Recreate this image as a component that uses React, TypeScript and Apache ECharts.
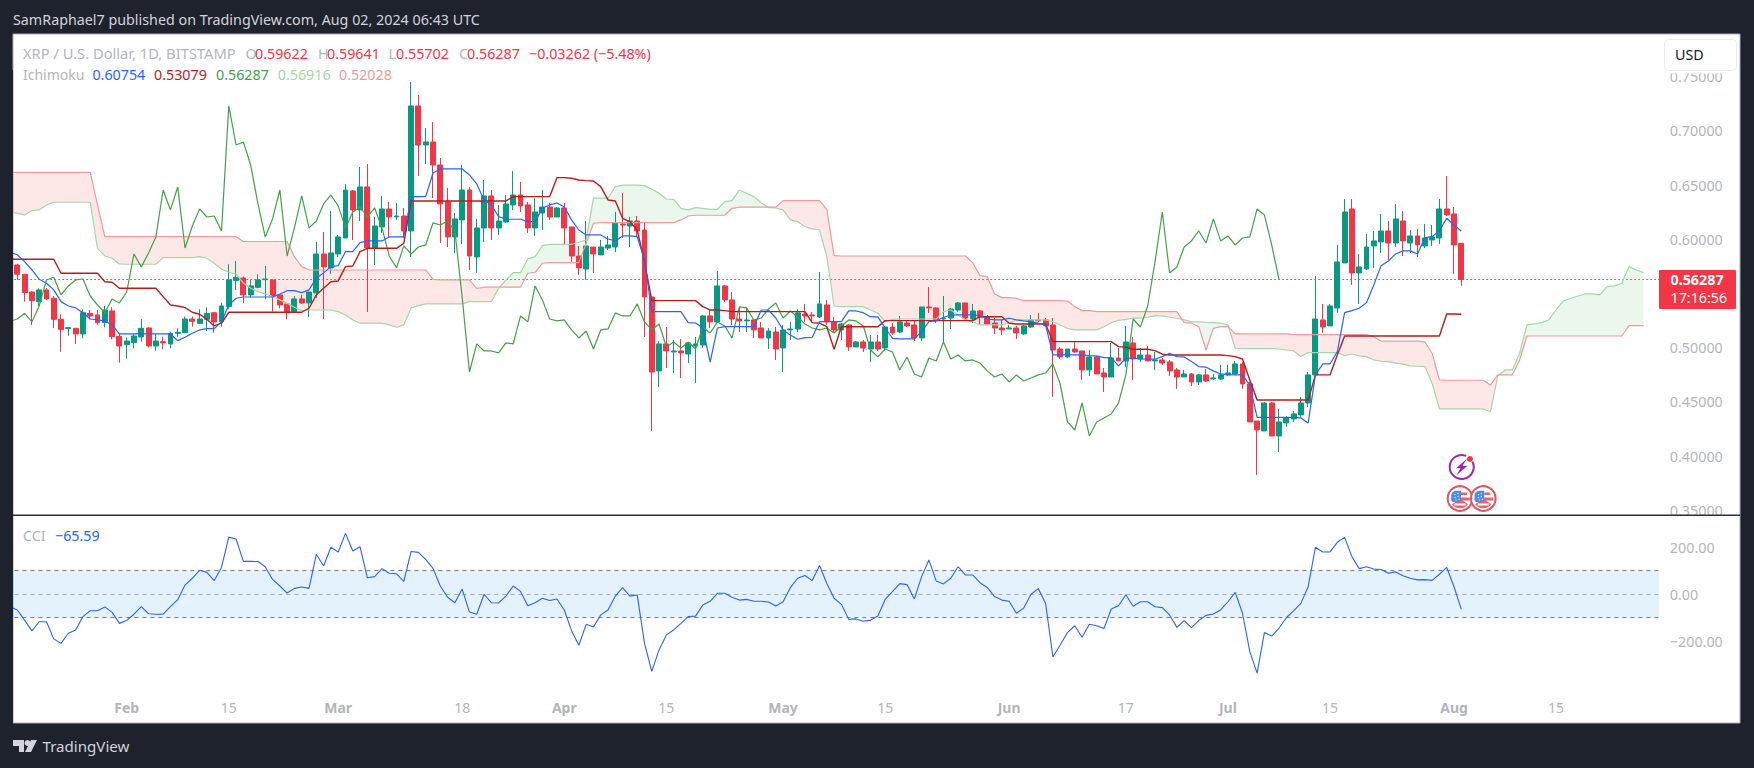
import React, { useEffect, useRef } from "react";
import * as echarts from "echarts";

const FONT = '"Noto Sans", sans-serif';
const CATEGORY_COUNT = 227;
const LAST_PRICE = 0.56287;
const tickIndex = [16, 30, 45, 62, 76, 90, 106, 120, 137, 153, 167, 181, 198, 212];
const tickLabels = ["Feb", "15", "Mar", "18", "Apr", "15", "May", "15", "Jun", "17", "Jul", "15", "Aug", "15"];
const boldTicks = ["Feb", "Mar", "Apr", "May", "Jun", "Jul", "Aug"];

const opens = [
  .5762,.5677,.5513,.5424,.5532,.5455,.5261,.5175,.5178,.5126,
  .5316,.5301,.5230,.5338,.5104,.5027,.5046,.5098,.5181,.5015,
  .5055,.5034,.5132,.5138,.5264,.5224,.5261,.5322,.5240,.5378,
  .5618,.5642,.5486,.5556,.5627,.5624,.5486,.5403,.5329,.5449,
  .5412,.5504,.5864,.5735,.5864,.6011,.6445,.6270,.6482,.5919,
  .6113,.6279,.6205,.6214,.6076,.7229,.6869,.6897,.6685,.6344,
  .6021,.6178,.6454,.5836,.6104,.6399,.6104,.6159,.6316,.6408,
  .6316,.6104,.6242,.6297,.6205,.6288,.6113,.5845,.5725,.5928,
  .5855,.5919,.5928,.6141,.6122,.6168,.6085,.5467,.4785,.5034,
  .4960,.4969,.4941,.5015,.5024,.5292,.5237,.5569,.5440,.5264,
  .5246,.5255,.5181,.5089,.5144,.4997,.5163,.5172,.5310,.5301,
  .5283,.5393,.5237,.5163,.5209,.5006,.5052,.4987,.5052,.4997,
  .5190,.5144,.5227,.5209,.5089,.5375,.5366,.5264,.5273,.5347,
  .5412,.5264,.5338,.5283,.5227,.5181,.5172,.5181,.5126,.5190,
  .5255,.5255,.5209,.4987,.4914,.4987,.4969,.4794,.4914,.4766,
  .4729,.4904,.4877,.5043,.4895,.4932,.4877,.4886,.4868,.4794,
  .4729,.4757,.4683,.4748,.4711,.4711,.4748,.4757,.4849,.4665,
  .4323,.4231,.4489,.4185,.4305,.4342,.4379,.4489,.4748,.5255,
  .5200,.5366,.5781,.6279,.5689,.5725,.5938,.5975,.6076,.5965,
  .6168,.5965,.6030,.5938,.5993,.6011,.6279,.6233,.59622,
];
const closes = [
  .5677,.5507,.5433,.5532,.5449,.5261,.5166,.5184,.5126,.5322,
  .5292,.5230,.5347,.5101,.5015,.5061,.5107,.5178,.5015,.5061,
  .5043,.5132,.5141,.5264,.5243,.5264,.5316,.5237,.5384,.5624,
  .5649,.5486,.5569,.5624,.5633,.5476,.5393,.5322,.5449,.5412,
  .5513,.5864,.5744,.5873,.6021,.6454,.6270,.6482,.5919,.6122,
  .6279,.6205,.6214,.6076,.7229,.6869,.6897,.6685,.6325,.6021,
  .6187,.6454,.5845,.6104,.6399,.6104,.6168,.6325,.6408,.6307,
  .6104,.6251,.6297,.6205,.6288,.6104,.5845,.5735,.5938,.5864,
  .5928,.5947,.6150,.6131,.6168,.6076,.5467,.4775,.5034,.4969,
  .4969,.4951,.5043,.5034,.5292,.5237,.5569,.5440,.5264,.5246,
  .5255,.5163,.5089,.5153,.4987,.5163,.5172,.5320,.5292,.5292,
  .5403,.5237,.5163,.5218,.5006,.5052,.4997,.5052,.4987,.5190,
  .5135,.5237,.5200,.5089,.5375,.5366,.5255,.5273,.5356,.5412,
  .5273,.5338,.5283,.5218,.5181,.5163,.5181,.5135,.5200,.5255,
  .5246,.5200,.4978,.4914,.4987,.4960,.4794,.4914,.4757,.4729,
  .4904,.4877,.5052,.4895,.4932,.4877,.4886,.4858,.4785,.4729,
  .4757,.4683,.4748,.4692,.4720,.4748,.4766,.4849,.4665,.4314,
  .4240,.4489,.4185,.4314,.4351,.4388,.4489,.4748,.5264,.5190,
  .5384,.5790,.6251,.5689,.5744,.5928,.5984,.6076,.5965,.6187,
  .5984,.6030,.5947,.6011,.6021,.6279,.6224,.5947,.56287,
];
const lows = [
  .5624,.5424,.5209,.5384,.5440,.5181,.4962,.5110,.5034,.5086,
  .5261,.5209,.5187,.5077,.4861,.4898,.4994,.5055,.5003,.4972,
  .4985,.4994,.5101,.5132,.5193,.5218,.5153,.5138,.5193,.5354,
  .5532,.5409,.5464,.5547,.5446,.5332,.5363,.5261,.5320,.5403,
  .5283,.5458,.5264,.5679,.5836,.6011,.5993,.6168,.5329,.5762,
  .6058,.6021,.6178,.6011,.5836,.6583,.6694,.6380,.5965,.5928,
  .5873,.5956,.5716,.5689,.5975,.5993,.6039,.6150,.6270,.6251,
  .6058,.6030,.6085,.6178,.6205,.5947,.5790,.5670,.5624,.5689,
  .5855,.5901,.5882,.6011,.5928,.6021,.5098,.4231,.4637,.4812,
  .4766,.4720,.4858,.4674,.4997,.5181,.5227,.5421,.5209,.5144,
  .5144,.5089,.5089,.4987,.4886,.4775,.5070,.5144,.5237,.5237,
  .5273,.5209,.5144,.5070,.4969,.5006,.4960,.4868,.4969,.4978,
  .5117,.5135,.5190,.5061,.5061,.5320,.5227,.5043,.5172,.5329,
  .5255,.5227,.5209,.5209,.5126,.5117,.5172,.5080,.5117,.5181,
  .5237,.5190,.4545,.4895,.4904,.4951,.4702,.4738,.4757,.4591,
  .4729,.4877,.4821,.4702,.4868,.4877,.4794,.4840,.4738,.4619,
  .4729,.4646,.4655,.4683,.4702,.4702,.4738,.4748,.4619,.4314,
  .3825,.4231,.4185,.4037,.4268,.4314,.4360,.4452,.4729,.5135,
  .5200,.5320,.5781,.5578,.5403,.5716,.5735,.5873,.5809,.5928,
  .5845,.5873,.5836,.5919,.5938,.5956,.6214,.5679,.55702,
];
const highs = [
  .5771,.5677,.5520,.5547,.5550,.5476,.5307,.5190,.5178,.5354,
  .5347,.5347,.5384,.5372,.5132,.5095,.5123,.5261,.5187,.5132,
  .5101,.5147,.5178,.5286,.5286,.5354,.5372,.5322,.5415,.5769,
  .5799,.5655,.5624,.5677,.5753,.5630,.5486,.5403,.5476,.5486,
  .5513,.5975,.6067,.6260,.6039,.6510,.6454,.6666,.6694,.6205,
  .6399,.6344,.6334,.6288,.7451,.7331,.7026,.7082,.6749,.6473,
  .6242,.6685,.6482,.6187,.6546,.6454,.6316,.6408,.6630,.6528,
  .6344,.6380,.6454,.6334,.6297,.6334,.6113,.5938,.6168,.5928,
  .5993,.6030,.6251,.6427,.6205,.6214,.6150,.5467,.5061,.5190,
  .5070,.5080,.5052,.5098,.5301,.5347,.5707,.5578,.5513,.5375,
  .5375,.5264,.5237,.5181,.5190,.5209,.5237,.5356,.5403,.5329,
  .5698,.5440,.5283,.5227,.5218,.5061,.5070,.5117,.5117,.5200,
  .5227,.5292,.5255,.5255,.5375,.5559,.5375,.5476,.5366,.5421,
  .5412,.5403,.5347,.5301,.5273,.5255,.5209,.5200,.5209,.5301,
  .5320,.5273,.5273,.5006,.4987,.5052,.4969,.4978,.4923,.4812,
  .5043,.4997,.5200,.5098,.4997,.5015,.4960,.4904,.4886,.4812,
  .4794,.4766,.4757,.4803,.4757,.4840,.4840,.4877,.4868,.4683,
  .4323,.4498,.4498,.4434,.4369,.4415,.4545,.4775,.5661,.5403,
  .5403,.5947,.6371,.6371,.5864,.6048,.6076,.6233,.6168,.6325,
  .6260,.6085,.6095,.6141,.6131,.6371,.6583,.6297,.59641,
];
const tenkan = [
  .5878,
  .5857,.5793,.5716,.5631,.5594,.5532,.5424,.5384,.5366,.5322,
  .5264,.5255,.5246,.5209,.5126,.5126,.5126,.5126,.5126,.5126,
  .5126,.5126,.5064,.5095,.5132,.5163,.5175,.5175,.5239,.5393,
  .5455,.5467,.5467,.5467,.5467,.5467,.5495,.5525,.5525,.5507,
  .5532,.5642,.5689,.5747,.5756,.5885,.5885,.5968,.5984,.5984,
  .5984,.6021,.6021,.6021,.6393,.6393,.6393,.6611,.6648,.6648,
  .6648,.6648,.6593,.6510,.6362,.6316,.6208,.6184,.6184,.6184,
  .6162,.6162,.6288,.6316,.6334,.6297,.6178,.6085,.6039,.6039,
  .6039,.6002,.5984,.6030,.6030,.6023,.5809,.5332,.5332,.5332,
  .5332,.5332,.5230,.5227,.5181,.4865,.5181,.5193,.5193,.5193,
  .5193,.5193,.5347,.5347,.5273,.5163,.5117,.5077,.5092,.5095,
  .5239,.5239,.5239,.5239,.5338,.5338,.5322,.5285,.5283,.5181,
  .5086,.5080,.5080,.5080,.5147,.5239,.5246,.5280,.5301,.5301,
  .5301,.5301,.5295,.5264,.5255,.5255,.5271,.5255,.5246,.5239,
  .5225,.5209,.4932,.4932,.4932,.4932,.4932,.4926,.4923,.4907,
  .4907,.4831,.4902,.4902,.4895,.4893,.4893,.4917,.4948,.4917,
  .4914,.4871,.4825,.4819,.4785,.4757,.4751,.4748,.4748,.4655,
  .4356,.4356,.4356,.4356,.4356,.4356,.4351,.4305,.4748,.4849,
  .4849,.4963,.5322,.5341,.5363,.5415,.5578,.5756,.5799,.5864,
  .5892,.5892,.5864,.6014,.6023,.6079,.6193,.6131,.60754,
];
const kijun = [
  .5815,
  .5815,.5815,.5815,.5815,.5815,.5815,.5686,.5686,.5686,.5686,
  .5686,.5686,.5608,.5603,.5547,.5547,.5547,.5547,.5547,.5547,
  .5470,.5393,.5384,.5369,.5326,.5308,.5261,.5200,.5225,.5326,
  .5326,.5326,.5326,.5326,.5326,.5326,.5326,.5326,.5326,.5326,
  .5363,.5486,.5547,.5608,.5615,.5747,.5753,.5885,.5916,.5916,
  .5916,.5916,.5916,.5963,.6353,.6353,.6353,.6353,.6353,.6353,
  .6353,.6353,.6353,.6353,.6353,.6353,.6353,.6353,.6393,.6393,
  .6393,.6393,.6393,.6393,.6568,.6568,.6562,.6546,.6540,.6537,
  .6485,.6362,.6353,.6193,.6162,.6085,.5793,.5433,.5433,.5433,
  .5433,.5433,.5433,.5433,.5378,.5347,.5347,.5341,.5332,.5332,
  .5332,.5332,.5332,.5332,.5332,.5332,.5332,.5332,.5332,.5230,
  .5225,.5193,.4985,.5193,.5193,.5193,.5193,.5193,.5193,.5249,
  .5249,.5249,.5249,.5249,.5249,.5249,.5249,.5249,.5249,.5249,
  .5249,.5249,.5285,.5285,.5285,.5285,.5225,.5218,.5218,.5218,
  .5218,.5218,.5055,.5055,.5055,.5055,.5055,.5055,.5055,.5055,
  .5055,.5009,.5003,.4985,.4985,.4985,.4972,.4939,.4932,.4932,
  .4932,.4932,.4932,.4932,.4932,.4932,.4926,.4917,.4895,.4702,
  .4517,.4517,.4517,.4517,.4517,.4517,.4517,.4517,.4748,.4748,
  .4748,.4932,.5107,.5107,.5107,.5107,.5107,.5107,.5107,.5107,
  .5107,.5107,.5107,.5107,.5107,.5107,.5310,.5310,.53079,
];
const chikou = [
  .5243,
  .5264,.5316,.5237,.5384,.5624,.5649,.5486,.5569,.5624,.5633,
  .5476,.5393,.5322,.5449,.5412,.5513,.5864,.5744,.5873,.6021,
  .6454,.6270,.6482,.5919,.6122,.6279,.6205,.6214,.6076,.7229,
  .6869,.6897,.6685,.6325,.6021,.6187,.6454,.5845,.6104,.6399,
  .6104,.6168,.6325,.6408,.6307,.6104,.6251,.6297,.6205,.6288,
  .6104,.5845,.5735,.5938,.5864,.5928,.5947,.6150,.6131,.6168,
  .6076,.5467,.4775,.5034,.4969,.4969,.4951,.5043,.5034,.5292,
  .5237,.5569,.5440,.5264,.5246,.5255,.5163,.5089,.5153,.4987,
  .5163,.5172,.5320,.5292,.5292,.5403,.5237,.5163,.5218,.5006,
  .5052,.4997,.5052,.4987,.5190,.5135,.5237,.5200,.5089,.5375,
  .5366,.5255,.5273,.5356,.5412,.5273,.5338,.5283,.5218,.5181,
  .5163,.5181,.5135,.5200,.5255,.5246,.5200,.4978,.4914,.4987,
  .4960,.4794,.4914,.4757,.4729,.4904,.4877,.5052,.4895,.4932,
  .4877,.4886,.4858,.4785,.4729,.4757,.4683,.4748,.4692,.4720,
  .4748,.4766,.4849,.4665,.4314,.4240,.4489,.4185,.4314,.4351,
  .4388,.4489,.4748,.5264,.5190,.5384,.5790,.6251,.5689,.5744,
  .5928,.5984,.6076,.5965,.6187,.5984,.6030,.5947,.6011,.6021,
  .6279,.6224,.5947,.56287,
];
const spanA = [
  .6250,
  .6239,.6224,.6263,.6270,.6316,.6341,.6341,.6341,.6341,.6341,
  .6341,.5916,.5845,.5824,.5772,.5769,.5769,.5769,.5769,.5769,
  .5830,.5830,.5830,.5830,.5830,.5839,.5824,.5778,.5725,.5695,
  .5677,.5596,.5547,.5516,.5495,.5470,.5440,.5409,.5372,.5341,
  .5347,.5347,.5347,.5347,.5332,.5301,.5255,.5225,.5225,.5225,
  .5225,.5209,.5188,.5209,.5366,.5387,.5403,.5403,.5403,.5403,
  .5403,.5403,.5424,.5424,.5424,.5424,.5547,.5624,.5691,.5691,
  .5818,.5839,.5940,.5953,.5953,.5953,.5953,.5972,.5993,.6378,
  .6378,.6378,.6485,.6498,.6498,.6498,.6494,.6461,.6424,.6371,
  .6368,.6285,.6270,.6291,.6285,.6276,.6276,.6346,.6356,.6454,
  .6424,.6393,.6337,.6291,.6288,.6270,.6178,.6162,.6116,.6095,
  .6085,.5839,.5384,.5378,.5378,.5378,.5378,.5347,.5317,.5239,
  .5261,.5264,.5264,.5264,.5264,.5264,.5264,.5332,.5347,.5301,
  .5255,.5239,.5209,.5209,.5209,.5209,.5225,.5255,.5255,.5255,
  .5255,.5255,.5239,.5209,.5178,.5163,.5163,.5163,.5163,.5193,
  .5230,.5252,.5261,.5271,.5271,.5280,.5292,.5292,.5280,.5271,
  .5255,.5239,.5237,.5234,.5230,.5225,.5209,.4994,.4990,.4990,
  .4990,.4990,.4990,.4987,.4978,.4969,.4917,.4954,.4954,.4954,
  .4954,.4954,.4926,.4941,.4923,.4917,.4886,.4874,.4871,.4856,
  .4847,.4831,.4828,.4825,.4671,.4434,.4434,.4434,.4434,.4434,
  .4434,.4434,.4409,.4738,.4794,.4794,.4948,.5209,.5218,.5230,
  .5255,.5347,.5430,.5455,.5476,.5495,.5495,.5486,.5562,.5569,
  .5594,.5747,.5716,.56916,
];
const spanB = [
  .6617,
  .6617,.6617,.6617,.6617,.6617,.6617,.6617,.6617,.6617,.6617,
  .6617,.6316,.6023,.6023,.6023,.6023,.6023,.6023,.6023,.6023,
  .6023,.6023,.6023,.6023,.6023,.6023,.6023,.6023,.6023,.6023,
  .6023,.5979,.5979,.5979,.5979,.5979,.5979,.5979,.5839,.5747,
  .5716,.5716,.5716,.5716,.5716,.5716,.5716,.5716,.5716,.5716,
  .5716,.5716,.5716,.5716,.5716,.5716,.5716,.5630,.5624,.5624,
  .5624,.5624,.5624,.5547,.5557,.5557,.5557,.5557,.5557,.5557,
  .5686,.5695,.5778,.5784,.5784,.5784,.5784,.5784,.5963,.6147,
  .6153,.6153,.6153,.6153,.6153,.6153,.6153,.6153,.6153,.6153,
  .6153,.6178,.6214,.6221,.6221,.6221,.6221,.6221,.6285,.6295,
  .6295,.6295,.6295,.6295,.6295,.6356,.6356,.6356,.6356,.6356,
  .6356,.6276,.5848,.5845,.5845,.5845,.5845,.5845,.5845,.5845,
  .5845,.5845,.5845,.5845,.5845,.5845,.5845,.5845,.5845,.5845,
  .5845,.5784,.5664,.5655,.5495,.5461,.5461,.5455,.5433,.5433,
  .5433,.5433,.5433,.5433,.5430,.5378,.5341,.5341,.5332,.5332,
  .5332,.5332,.5332,.5332,.5332,.5332,.5332,.5332,.5332,.5332,
  .5230,.5225,.5193,.4978,.5178,.5193,.5193,.5126,.5126,.5126,
  .5126,.5126,.5126,.5126,.5126,.5119,.5119,.5119,.5119,.5119,
  .5119,.5119,.5119,.5119,.5119,.5119,.5101,.5059,.5059,.5059,
  .5059,.5059,.5059,.5052,.4948,.4702,.4699,.4699,.4699,.4699,
  .4699,.4699,.4655,.4748,.4748,.4748,.4886,.5107,.5107,.5107,
  .5107,.5107,.5107,.5107,.5107,.5107,.5107,.5107,.5107,.5107,
  .5107,.5203,.5203,.52028,
];
const cci = [
  -54,
  -68,-111,-157,-118,-118,-191,-210,-167,-153,-96,
  -71,-71,-55,-78,-125,-112,-86,-54,-84,-86,
  -86,-54,-24,38,67,101,92,57,113,242,
  234,139,139,138,116,62,34,4,24,30,
  24,169,119,199,179,258,183,201,69,74,
  108,88,86,54,181,177,147,109,34,-14,
  -37,21,-77,-86,-1,-37,-38,-9,34,11,
  -50,-37,-18,-28,-21,-68,-156,-218,-129,-140,
  -89,-68,-9,27,-9,-4,-210,-329,-238,-174,
  -153,-125,-96,-94,-47,-31,3,3,-14,-26,
  -23,-31,-31,-34,-51,-33,27,67,79,57,
  121,45,-18,-44,-108,-106,-116,-111,-94,-23,
  10,44,40,-21,74,145,55,43,67,116,
  81,81,48,28,-11,-26,-31,-82,-60,-1,
  23,-40,-268,-217,-164,-135,-184,-129,-135,-147,
  -64,-50,-3,-52,-33,-33,-54,-58,-89,-142,
  -113,-143,-113,-91,-85,-68,-33,7,-82,-245,
  -337,-164,-179,-146,-101,-72,-40,31,199,179,
  179,220,241,159,108,116,106,104,88,94,
  78,67,60,61,58,84,113,31,-65.59,
];

const UP = "#089981";
const DOWN = "#f23645";
const TEXT_GREY = "#b2b5be";
const BG = "#1e222d";

function txt(text: string, x: number, y: number, fill: string, size = 14.3, extra: any = {}) {
  return {
    type: "text",
    z: 120,
    x,
    y: y - 0.7,
    style: { text, fill, font: `${extra.weight || "normal"} ${size}px ${FONT}`, verticalAlign: "middle", align: "left" },
  };
}

function flagIcon(cx: number, cy: number) {
  const RED = "#ef5f67";
  const dots: number[][] = [[-5, -4], [-2, -5], [-5, -1], [-2, -2], [-1, 1], [-4, 1.5]];
  return {
    type: "group",
    z: 120,
    children: [
      { type: "circle", z: 120, shape: { cx, cy, r: 12.3 }, style: { fill: "#ffffff", stroke: "#e2545b", lineWidth: 2 } },
      { type: "sector", z: 121, shape: { cx, cy, r: 9.8, r0: 0, startAngle: Math.PI * 0.2, endAngle: Math.PI * 0.8 }, style: { fill: RED } },
      { type: "rect", z: 121, shape: { x: cx - 5.5, y: cy + 5, width: 11, height: 2 }, style: { fill: "#ffffff" } },
      { type: "rect", z: 121, shape: { x: cx + 1, y: cy - 1, width: 8.8, height: 3 }, style: { fill: RED } },
      { type: "rect", z: 121, shape: { x: cx + 1, y: cy - 6, width: 6, height: 2.5 }, style: { fill: RED } },
      { type: "rect", z: 122, shape: { x: cx - 8.8, y: cy - 7.8, width: 9.8, height: 11.3, r: [5, 0, 0, 2] }, style: { fill: "#4a8fe7" } },
      ...dots.map(([dx, dy]) => ({ type: "circle", z: 123, shape: { cx: cx + dx, cy: cy + dy, r: 0.7 }, style: { fill: "#dbe9fb" } })),
    ],
  };
}

export default function App() {
  const ref = useRef<HTMLDivElement>(null);
  useEffect(() => {
    const chart = echarts.init(ref.current!, undefined, { renderer: "svg" });
    const gridLeft = 6.36;
    const gridWidth = 1655.5;
    const categories = Array.from({ length: CATEGORY_COUNT }, (_, i) => {
      const k = tickIndex.indexOf(i);
      return k >= 0 ? tickLabels[k] : "";
    });
    const candleData: any[] = [["-", "-", "-", "-"], ...opens.map((o, i) => [o, closes[i], lows[i], highs[i]])];
    const cloudData = spanA.slice(0, -1).map((a, i) => [i, a, spanB[i], spanA[i + 1], spanB[i + 1]]);

    const renderCloud = (_p: any, api: any) => {
      const i = api.value(0);
      const a0 = api.value(1);
      const b0 = api.value(2);
      const a1 = api.value(3);
      const b1 = api.value(4);
      const GREEN = "rgba(76,175,80,0.11)";
      const RED = "rgba(244,67,54,0.12)";
      const poly = (pts: number[][], fill: string) => ({
        type: "polygon",
        shape: { points: pts.map((p) => api.coord(p)) },
        style: { fill },
        silent: true,
      });
      const d0 = a0 - b0;
      const d1 = a1 - b1;
      if (d0 * d1 >= 0) {
        const fill = d0 + d1 >= 0 ? GREEN : RED;
        return { type: "group", children: [poly([[i, a0], [i + 1, a1], [i + 1, b1], [i, b0]], fill)] };
      }
      const t = d0 / (d0 - d1);
      const xc = i + t;
      const yc = a0 + (a1 - a0) * t;
      return {
        type: "group",
        children: [
          poly([[i, a0], [xc, yc], [i, b0]], d0 > 0 ? GREEN : RED),
          poly([[xc, yc], [i + 1, a1], [i + 1, b1]], d1 > 0 ? GREEN : RED),
        ],
      };
    };

    const lineSeries = (name: string, data: number[], color: string, width = 1.2, extra: any = {}) => ({
      name,
      type: "line",
      data,
      xAxisIndex: 0,
      yAxisIndex: 0,
      symbol: "none",
      z: 5,
      lineStyle: { color, width },
      silent: true,
      ...extra,
    });

    const option: any = {
      animation: false,
      backgroundColor: BG,
      textStyle: { fontFamily: FONT },
      grid: [
        { left: gridLeft, width: gridWidth, top: 76.6, height: 433.6 },
        { left: gridLeft, width: gridWidth, top: 523.5, height: 164.5 },
      ],
      xAxis: [
        { type: "category", gridIndex: 0, data: categories, boundaryGap: true, axisLine: { show: false }, axisTick: { show: false }, axisLabel: { show: false }, splitLine: { show: false } },
        {
          type: "category",
          gridIndex: 1,
          data: categories,
          boundaryGap: true,
          axisLine: { show: false },
          axisTick: { show: false },
          splitLine: { show: false },
          axisLabel: {
            show: true,
            interval: (i: number) => tickIndex.includes(i),
            margin: 12,
            color: TEXT_GREY,
            fontSize: 14,
            fontFamily: FONT,
            formatter: (v: string) => (boldTicks.includes(v) ? `{b|${v}}` : v),
            rich: { b: { fontWeight: "bold", fontSize: 14, color: TEXT_GREY, fontFamily: FONT } },
          },
        },
      ],
      yAxis: [
        {
          type: "value",
          gridIndex: 0,
          position: "right",
          min: 0.35,
          max: 0.75,
          interval: 0.05,
          scale: true,
          axisLine: { show: false },
          axisTick: { show: false },
          splitLine: { show: false },
          axisLabel: {
            color: TEXT_GREY,
            fontSize: 14.3,
            fontFamily: FONT,
            margin: 8,
            padding: [0, 0, 2, 0],
            // the 0.55 tick lies under the last-price tag, as in the reference
            formatter: (v: number) => (Math.abs(v - 0.55) < 1e-6 ? "" : v.toFixed(5)),
          },
        },
        {
          type: "value",
          gridIndex: 1,
          position: "right",
          min: -400,
          max: 300,
          interval: 100,
          axisLine: { show: false },
          axisTick: { show: false },
          splitLine: { show: false },
          axisLabel: {
            color: TEXT_GREY,
            fontSize: 14.3,
            fontFamily: FONT,
            margin: 8,
            padding: [0, 0, 2, 0],
            formatter: (v: number) => (v === 200 ? "200.00" : v === 0 ? "0.00" : v === -200 ? "\u2212200.00" : ""),
          },
        },
      ],
      series: [
        { name: "Cloud", type: "custom", xAxisIndex: 0, yAxisIndex: 0, z: 1, silent: true, data: cloudData, encode: { x: 0, y: 1 }, renderItem: renderCloud },
        lineSeries("Lead 1", spanA, "#a5d6a7"),
        lineSeries("Lead 2", spanB, "#ef9a9a"),
        {
          name: "XRP",
          type: "candlestick",
          xAxisIndex: 0,
          yAxisIndex: 0,
          data: candleData,
          barWidth: 5.4,
          z: 3,
          silent: true,
          itemStyle: { color: UP, color0: DOWN, borderColor: UP, borderColor0: DOWN, borderWidth: 1 },
        },
        lineSeries("Chikou", chikou, "#43a047"),
        lineSeries("Kijun", kijun, "#b71c1c", 1.4, {
          markLine: {
            silent: true,
            precision: 5,
            symbol: ["none", "none"],
            label: { show: false },
            lineStyle: { color: "#d93b50", type: [1.5, 2.5], width: 1 },
            data: [{ yAxis: LAST_PRICE }],
          },
        }),
        lineSeries("Tenkan", tenkan, "#2962ff"),
        {
          name: "CCI",
          type: "line",
          xAxisIndex: 1,
          yAxisIndex: 1,
          data: cci,
          symbol: "none",
          z: 5,
          silent: true,
          lineStyle: { color: "#2962ff", width: 1.1 },
          markArea: { silent: true, itemStyle: { color: "rgba(33,150,243,0.12)" }, data: [[{ yAxis: 100 }, { yAxis: -100 }]] },
          markLine: {
            silent: true,
            symbol: ["none", "none"],
            label: { show: false },
            data: [
              { yAxis: 100, lineStyle: { color: "#787b86", type: [4, 4], width: 1 } },
              { yAxis: 0, lineStyle: { color: "rgba(120,123,134,0.6)", type: [4, 4], width: 1 } },
              { yAxis: -100, lineStyle: { color: "#787b86", type: [4, 4], width: 1 } },
            ],
          },
        },
      ],
      graphic: [
        { type: "rect", z: -10, shape: { x: 13, y: 34, width: 1727, height: 689 }, style: { fill: "#ffffff", stroke: "#a9acb5", lineWidth: 1 }, silent: true },
        { type: "rect", z: 90, shape: { x: 0, y: 70, width: 13, height: 653 }, style: { fill: BG }, silent: true },
        { type: "rect", z: 90, shape: { x: 1659, y: 516, width: 5, height: 206 }, style: { fill: "#ffffff" }, silent: true },
        { type: "rect", z: 90, shape: { x: 1664, y: 515, width: 75, height: 12 }, style: { fill: "#ffffff" }, silent: true },
        { type: "rect", z: 91, shape: { x: 13, y: 514.5, width: 1727, height: 1.6 }, style: { fill: "#2a2e39" }, silent: true },

        txt("SamRaphael7 published on TradingView.com, Aug 02, 2024 06:43 UTC", 13, 20, "#d1d4dc", 14.3),

        txt("XRP / U.S. Dollar, 1D, BITSTAMP", 23, 54, TEXT_GREY, 14.7),
        txt("O", 245.5, 54, TEXT_GREY),
        txt("0.59622", 255, 54, DOWN),
        txt("H", 318, 54, TEXT_GREY),
        txt("0.59641", 327, 54, DOWN),
        txt("L", 388.5, 54, TEXT_GREY),
        txt("0.55702", 396, 54, DOWN),
        txt("C", 459, 54, TEXT_GREY),
        txt("0.56287", 467, 54, DOWN),
        txt("\u22120.03262 (\u22125.48%)", 529, 54, DOWN),

        txt("Ichimoku", 23, 75, TEXT_GREY, 14),
        txt("0.60754", 92.4, 75, "#2962ff"),
        txt("0.53079", 154, 75, "#b71c1c"),
        txt("0.56287", 216, 75, "#43a047"),
        txt("0.56916", 277.7, 75, "#a5d6a7"),
        txt("0.52028", 339, 75, "#ef9a9a"),

        txt("CCI", 23, 536, TEXT_GREY),
        txt("\u221265.59", 55, 536, "#2962ff"),

        { type: "rect", z: 110, shape: { x: 1664.5, y: 39.5, width: 72, height: 31, r: 4 }, style: { fill: "#ffffff", stroke: "#e9ebf0", lineWidth: 1 }, silent: true },
        { type: "rect", z: 109, shape: { x: 1664, y: 71, width: 74, height: 2.5 }, style: { fill: "#ffffff" }, silent: true },
        txt("USD", 1675, 55, "#131722"),

        { type: "rect", z: 110, shape: { x: 1659, y: 270, width: 77, height: 39, r: 1 }, style: { fill: DOWN }, silent: true },
        txt("0.56287", 1670.5, 280.5, "#ffffff", 14.3, { weight: "bold" }),
        txt("17:16:56", 1670.5, 298.5, "#ffffff"),

        { type: "arc", z: 120, shape: { cx: 1461.7, cy: 467, r: 12, startAngle: -Math.PI * 0.15, endAngle: -Math.PI * 0.38, clockwise: true }, style: { fill: "none", stroke: "#9c27b0", lineWidth: 2 } },
        { type: "polygon", z: 121, shape: { points: [[1467, 458.8], [1456, 468.3], [1460.5, 468.3], [1456.5, 475.3], [1467.5, 465.8], [1462.5, 465.8]] }, style: { fill: "#9c27b0" } },
        { type: "circle", z: 122, shape: { cx: 1470, cy: 459, r: 3 }, style: { fill: "#f23645" } },
        flagIcon(1460, 498.5),
        flagIcon(1483.3, 498.5),

        { type: "polygon", z: 120, shape: { points: [[13, 740], [24, 740], [24, 752], [19, 752], [19, 746], [13, 746]] }, style: { fill: "#d1d4dc" } },
        { type: "circle", z: 120, shape: { cx: 27.5, cy: 743, r: 3 }, style: { fill: "#d1d4dc" } },
        { type: "polygon", z: 120, shape: { points: [[31, 740], [37, 740], [31, 752], [25, 752]] }, style: { fill: "#d1d4dc" } },
        txt("TradingView", 42.5, 746.5, "#d1d4dc", 15.1),
      ],
    };
    chart.setOption(option);
    return () => chart.dispose();
  }, []);
  return <div ref={ref} style={{ position: "fixed", left: 0, top: 0, width: 1754, height: 768 }} />;
}
